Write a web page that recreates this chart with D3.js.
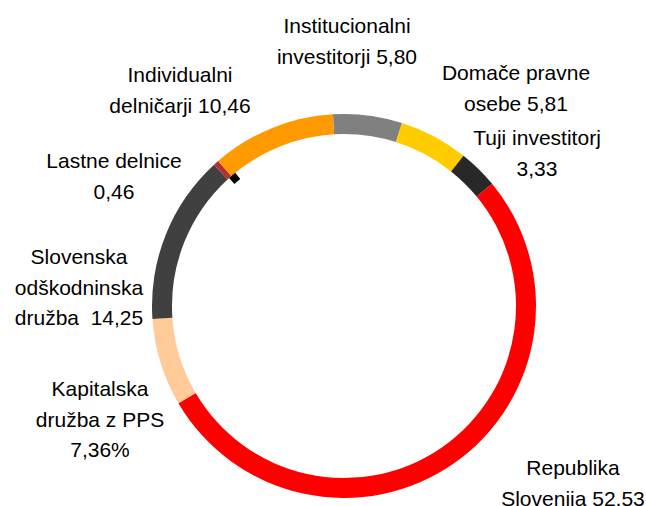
<!DOCTYPE html>
<html>
<head>
<meta charset="utf-8">
<script src="https://cdn.jsdelivr.net/npm/d3@7"></script>
<style>
  html, body { margin: 0; padding: 0; background: #fff; }
  text { font-family: "Liberation Sans", Arial, sans-serif; font-size: 21px; fill: #000; }
</style>
</head>
<body>
<svg id="chart" width="646" height="506"></svg>
<script>
// shareholders, clockwise from the top
var categories = [
  "Institucionalni investitorji",
  "Domače pravne osebe",
  "Tuji investitorj",
  "Republika Slovenija",
  "Kapitalska družba z PPS",
  "Slovenska odškodninska družba",
  "Lastne delnice",
  "Individualni delničarji"
];
var values = [5.80, 5.81, 3.33, 52.53, 7.36, 14.25, 0.46, 10.46];
var labelLines = [
  ["Institucionalni", "investitorji 5,80"],
  ["Domače pravne", "osebe 5,81"],
  ["Tuji investitorj", "3,33"],
  ["Republika", "Slovenija 52,53"],
  ["Kapitalska", "družba z PPS", "7,36%"],
  ["Slovenska", "odškodninska", "družba  14,25"],
  ["Lastne delnice", "0,46"],
  ["Individualni", "delničarji 10,46"]
];

var colors = ["#808080", "#ffcc00", "#282828", "#ff0000", "#ffcc99", "#404040", "#b03434", "#ff9900"];
// label anchor (centre x, first baseline y)
var labelAnchors = [
  [347, 33], [516, 80], [537, 145], [573, 475],
  [100, 396], [79, 264], [114, 168], [180, 82]
];
var lineHeight = 30.5;

var cx = 344, cy = 306, rOuter = 192, rInner = 172;
var startAngle = -3.3 * Math.PI / 180;

var svg = d3.select("#chart");
var g = svg.append("g").attr("transform", "translate(" + cx + "," + cy + ")");

var pie = d3.pie()
  .sort(null)
  .value(function(d) { return d; })
  .startAngle(startAngle)
  .endAngle(startAngle + 2 * Math.PI);

var arcs = pie(values);

var arc = d3.arc().innerRadius(rInner).outerRadius(rOuter);

g.selectAll("path.slice")
  .data(arcs)
  .enter().append("path")
  .attr("class", "slice")
  .attr("d", arc)
  .attr("fill", function(d, i) { return colors[i]; });

// small dark mark on the inner edge of the "Lastne delnice" slice
var mark = arcs[categories.indexOf("Lastne delnice")];
g.append("path")
  .attr("d", d3.arc().innerRadius(rInner - 8).outerRadius(rInner)
    .startAngle(mark.startAngle + 0.012).endAngle(mark.endAngle + 0.03)())
  .attr("fill", "#000");

var labels = svg.selectAll("text.label")
  .data(labelLines)
  .enter().append("text")
  .attr("class", "label")
  .attr("text-anchor", "middle")
  .attr("x", function(d, i) { return labelAnchors[i][0]; })
  .attr("y", function(d, i) { return labelAnchors[i][1]; });

labels.each(function(lines, i) {
  var t = d3.select(this);
  lines.forEach(function(line, j) {
    t.append("tspan")
      .attr("x", labelAnchors[i][0])
      .attr("y", labelAnchors[i][1] + j * lineHeight)
      .style("white-space", "pre")
      .text(line);
  });
});
</script>
</body>
</html>
